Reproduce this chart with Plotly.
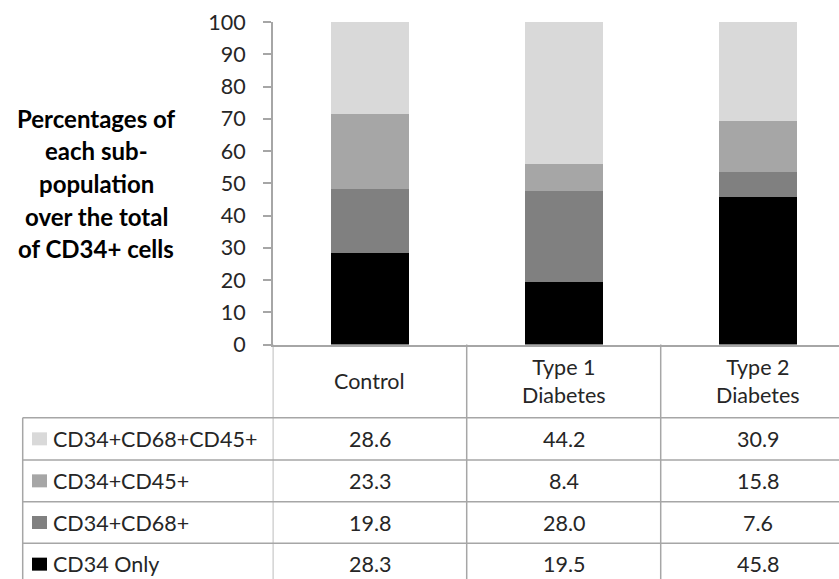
import plotly.graph_objects as go

# ---- data ----
categories = ["Control", "Type 1 Diabetes", "Type 2 Diabetes"]
category_labels = ["Control", "Type 1<br>Diabetes", "Type 2<br>Diabetes"]
series_names = ["CD34 Only", "CD34+CD68+", "CD34+CD45+", "CD34+CD68+CD45+"]
cd34_only = [28.3, 19.5, 45.8]
cd34_cd68 = [19.8, 28.0, 7.6]
cd34_cd45 = [23.3, 8.4, 15.8]
cd34_cd68_cd45 = [28.6, 44.2, 30.9]
series_values = [cd34_only, cd34_cd68, cd34_cd45, cd34_cd68_cd45]
series_colors = ["#000000", "#808080", "#A6A6A6", "#D9D9D9"]
y_ticks = [0, 10, 20, 30, 40, 50, 60, 70, 80, 90, 100]
title_lines = ["Percentages of", "each sub-", "population", "over the total", "of CD34+ cells"]

W, H = 839, 579
FONT = "Lato, 'Open Sans', sans-serif"
LINE = "#A6A6A6"
TXT = "#262626"
TSIZE = 21.5

def py(p):  # pixel y -> paper y
    return 1 - p / H

def px(p):
    return p / W

x_left_px = 272.7
cat_w_px = 194.0
plot_w_px = W - x_left_px
x_max = -0.5 + plot_w_px / cat_w_px

fig = go.Figure()
xs = list(range(len(categories)))
for name, vals, col in zip(series_names, series_values, series_colors):
    fig.add_trace(go.Bar(x=xs, y=vals, name=name, marker=dict(color=col, line=dict(width=0)),
                         width=0.40, showlegend=False))

fig.update_layout(
    width=W, height=H, barmode="stack",
    margin=dict(l=0, r=0, t=0, b=0, autoexpand=False),
    paper_bgcolor="white", plot_bgcolor="white",
    font=dict(family=FONT, color=TXT),
    xaxis=dict(domain=[px(x_left_px), 1], range=[-0.5, x_max], showticklabels=False,
               showgrid=False, zeroline=False, showline=True, linecolor=LINE, linewidth=1.5,
               ticks="", automargin=False),
    yaxis=dict(domain=[py(344.5), py(22)], range=[0, 100], tickvals=y_ticks,
               showgrid=False, zeroline=False, showline=True, linecolor=LINE, linewidth=1.5,
               ticks="outside", ticklen=8, tickcolor=LINE, tickwidth=1.5, automargin=False,
               ticklabelstandoff=13,
               tickfont=dict(size=21.5, color=TXT, family=FONT)),
)

# y-axis title lines
title_y = [118, 150.5, 183, 216, 248]
for t, yy in zip(title_lines, title_y):
    fig.add_annotation(text="<b>%s</b>" % t, xref="paper", yref="paper", x=px(96), y=py(yy),
                       showarrow=False, xanchor="center", yanchor="middle",
                       font=dict(size=24, color="#000000", family=FONT))

# ---- data table ----
row_lines_px = [417.7, 460.0, 501.7, 543.3, 585.0]
header_center = (344.5 + 417.7) / 2
for i, lab in enumerate(category_labels):
    fig.add_annotation(text=lab, xref="x", yref="paper", x=i, y=py(header_center),
                       showarrow=False, xanchor="center", yanchor="middle",
                       font=dict(size=TSIZE, color=TXT, family=FONT))

row_order = list(range(len(series_names)))[::-1]
for r, si in enumerate(row_order):
    ymid = (row_lines_px[r] + row_lines_px[r + 1]) / 2
    fig.add_shape(type="rect", xref="paper", yref="paper",
                  x0=px(32), x1=px(47), y0=py(ymid - 6.5), y1=py(ymid + 6.5),
                  fillcolor=series_colors[si], line=dict(width=0))
    fig.add_annotation(text=series_names[si], xref="paper", yref="paper", x=px(51), y=py(ymid),
                       showarrow=False, xanchor="left", yanchor="middle",
                       font=dict(size=TSIZE, color=TXT, family=FONT))
    for i in xs:
        fig.add_annotation(text="%.1f" % series_values[si][i], xref="x", yref="paper", x=i, y=py(ymid),
                           showarrow=False, xanchor="center", yanchor="middle",
                           font=dict(size=TSIZE, color=TXT, family=FONT))

lw = 1.5
for yy in row_lines_px[:-1]:
    fig.add_shape(type="line", xref="paper", yref="paper", x0=px(22.7), x1=1.0, y0=py(yy), y1=py(yy),
                  line=dict(color=LINE, width=lw))
fig.add_shape(type="line", xref="paper", yref="paper", x0=px(22.7), x1=px(22.7), y0=py(417.7), y1=py(600),
              line=dict(color=LINE, width=lw))
for b in [-0.5, 0.5, 1.5]:
    fig.add_shape(type="line", xref="x", yref="paper", x0=b, x1=b, y0=py(344.5), y1=py(600),
                  line=dict(color=LINE, width=lw))

fig.write_html("out.html", config={"displayModeBar": False},
               post_script="document.body.style.margin='0';")
